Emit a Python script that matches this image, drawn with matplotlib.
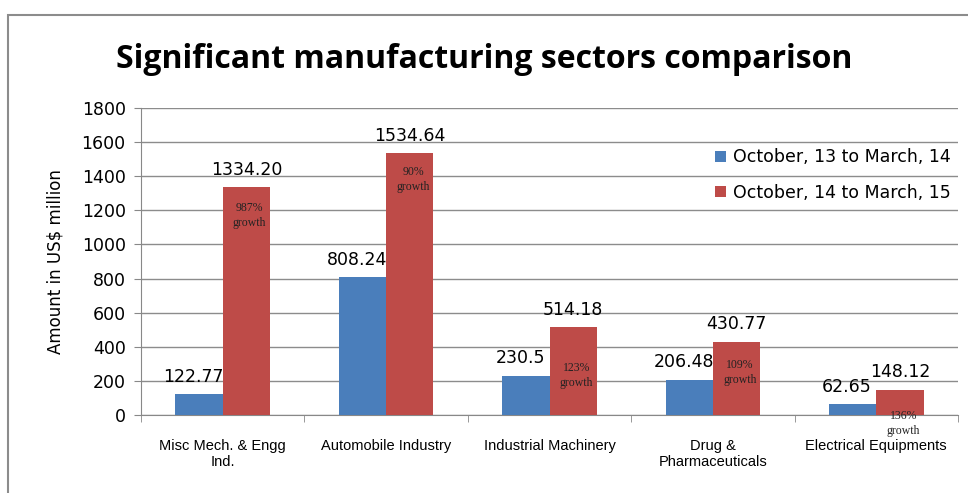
import matplotlib
matplotlib.use("Agg")
import matplotlib.pyplot as plt
import numpy as np
from matplotlib.patches import Rectangle

categories = ["Misc Mech. & Engg\nInd.", "Automobile Industry", "Industrial Machinery",
              "Drug &\nPharmaceuticals", "Electrical Equipments"]
period_1 = [122.77, 808.24, 230.5, 206.48, 62.65]
period_2 = [1334.20, 1534.64, 514.18, 430.77, 148.12]
labels_1 = ["122.77", "808.24", "230.5", "206.48", "62.65"]
labels_2 = ["1334.20", "1534.64", "514.18", "430.77", "148.12"]
growth = ["987%\ngrowth", "90%\ngrowth", "123%\ngrowth", "109%\ngrowth", "136%\ngrowth"]
growth_y = [1170, 1380, 230, 250, -50]
series_names = ["October, 13 to March, 14", "October, 14 to March, 15"]

blue = "#4a7ebb"
red = "#be4b48"

fig = plt.figure(figsize=(9.68, 4.93), dpi=100)
ax = fig.add_axes([141/968, 1 - 415/493, 817/968, 307/493])

x = np.arange(len(categories))
w = 0.29
ax.bar(x - w/2, period_1, w, color=blue, label=series_names[0], zorder=3)
ax.bar(x + w/2, period_2, w, color=red, label=series_names[1], zorder=3)

for i in range(len(categories)):
    ax.annotate(labels_1[i], (x[i] - w/2, period_1[i]), xytext=(-4, 6),
                textcoords="offset points", ha="center", va="bottom", fontsize=12.5, zorder=5)
    ax.annotate(labels_2[i], (x[i] + w/2, period_2[i]), xytext=(0, 6),
                textcoords="offset points", ha="center", va="bottom", fontsize=12.5, zorder=5)
    ax.text(x[i] + w/2 + 0.02, growth_y[i], growth[i], ha="center", va="center",
            fontsize=8.5, family="Liberation Serif", color="#222222", linespacing=1.3, zorder=5)

ax.set_xlim(-0.5, len(categories) - 0.5)
ax.set_ylim(0, 1800)
ax.set_yticks(np.arange(0, 1801, 200))
ax.tick_params(axis="y", labelsize=12.5, length=5, color="#888888", pad=6)
ax.set_xticks(x)
ax.set_xticklabels(categories, fontsize=10.5, family="Liberation Sans")
ax.set_xticks(np.arange(-0.5, len(categories), 1), minor=True)
ax.tick_params(axis="x", which="major", length=0, pad=17)
ax.tick_params(axis="x", which="minor", length=5, color="#888888")
ax.grid(axis="y", color="#8c8c8c", linewidth=1, zorder=0)
for s in ["top", "right"]:
    ax.spines[s].set_visible(False)
for s in ["left", "bottom"]:
    ax.spines[s].set_color("#888888")

ax.set_ylabel("Amount in US$ million", fontsize=12, labelpad=12)

ax.legend(loc="upper right", bbox_to_anchor=(1.01, 0.92), frameon=False, fontsize=12.5,
          handlelength=0.6, handleheight=0.6, handletextpad=0.4, labelspacing=1.0)

fig.text(0.5, 1 - 60/493, "Significant manufacturing sectors comparison", ha="center",
         va="center", fontsize=23, fontweight="bold", family="Open Sans")

fig.patches.append(Rectangle((8/968, -0.05), 1.0, 1 - 15/493 + 0.05, transform=fig.transFigure,
                             fill=False, edgecolor="#8c8c8c", linewidth=1.5))

fig.savefig("out.png", dpi=100)
